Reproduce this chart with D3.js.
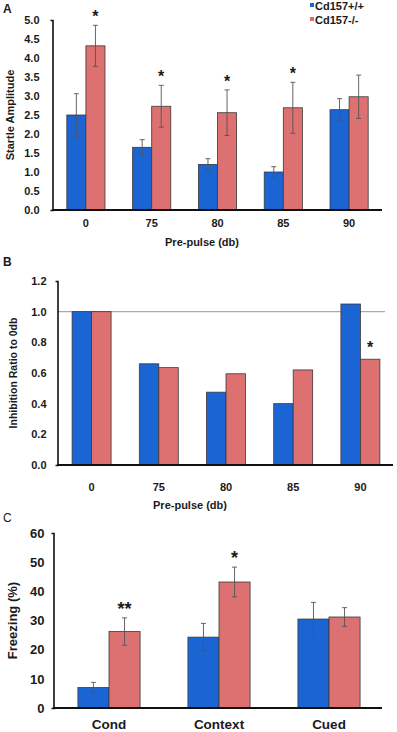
<!DOCTYPE html>
<html><head><meta charset="utf-8">
<script src="https://cdn.jsdelivr.net/npm/d3@7"></script>
<style>
body{margin:0;background:#fff;}
svg{display:block;font-family:"Liberation Sans",Arial,sans-serif;}
text{fill:#1a1a1a;}
</style></head>
<body>
<script>
// ---------- DATA ----------
const series = ["Cd157+/+", "Cd157-/-"];
const colors = ["#1a64d4", "#dd7070"];

const prepulse = ["0", "75", "80", "85", "90"];
const startleWT = [2.5, 1.65, 1.2, 1.0, 2.64];
const startleWTErr = [0.56, 0.2, 0.15, 0.14, 0.29];
const startleKO = [4.32, 2.73, 2.56, 2.69, 2.98];
const startleKOErr = [0.54, 0.55, 0.6, 0.67, 0.57];
const startleSig = ["*", "*", "*", "*", ""];
const startleTicks = [0, 0.5, 1, 1.5, 2, 2.5, 3, 3.5, 4, 4.5, 5];

const ratioWT = [1.0, 0.66, 0.475, 0.40, 1.05];
const ratioKO = [1.0, 0.635, 0.595, 0.62, 0.69];
const ratioSig = ["", "", "", "", "*"];
const ratioTicks = [0, 0.2, 0.4, 0.6, 0.8, 1.0, 1.2];

const tests = ["Cond", "Context", "Cued"];
const freezeWT = [7, 24.3, 30.5];
const freezeWTErr = [1.8, 4.7, 5.7];
const freezeKO = [26.2, 43.2, 31.2];
const freezeKOErr = [4.7, 5.1, 3.2];
const freezeSig = ["**", "*", ""];
const freezeTicks = [0, 10, 20, 30, 40, 50, 60];

// ---------- DRAW ----------
const W = 397, H = 732;
const svg = d3.select("body").append("svg").attr("width", W).attr("height", H);

function panel(opt) {
  const g = svg.append("g");
  const x = d3.scaleBand().domain(opt.cats).range(opt.xr).paddingInner(opt.pad).paddingOuter(opt.pad / 2);
  const xs = d3.scaleBand().domain([0, 1]).range([0, x.bandwidth()]);
  const y = d3.scaleLinear().domain(opt.yd).range(opt.yr);

  if (opt.refLine != null) {
    g.append("line").attr("x1", opt.xr[0]).attr("x2", opt.refEnd)
      .attr("y1", y(opt.refLine)).attr("y2", y(opt.refLine))
      .attr("stroke", "#aaa").attr("stroke-width", 1.2);
  }

  const data = [];
  opt.cats.forEach((c, i) => {
    opt.vals.forEach((v, s) => data.push({c, s, v: v[i], e: opt.errs ? opt.errs[s][i] : null}));
  });

  g.selectAll("rect.bar").data(data).join("rect")
    .attr("x", d => x(d.c) + xs(d.s))
    .attr("width", xs.bandwidth())
    .attr("y", d => y(d.v))
    .attr("height", d => y(0) - y(d.v))
    .attr("fill", d => colors[d.s])
    .attr("stroke", "#3a3a3a").attr("stroke-width", 0.8);

  if (opt.errs) {
    const eg = g.selectAll("g.err").data(data).join("g")
      .attr("stroke", "#555").attr("stroke-width", 0.9);
    const cx = d => x(d.c) + xs(d.s) + xs.bandwidth() / 2;
    eg.append("line").attr("x1", cx).attr("x2", cx)
      .attr("y1", d => y(d.v + d.e)).attr("y2", d => y(d.v - d.e));
    eg.append("line").attr("x1", d => cx(d) - 2.5).attr("x2", d => cx(d) + 2.5)
      .attr("y1", d => y(d.v + d.e)).attr("y2", d => y(d.v + d.e));
    eg.append("line").attr("x1", d => cx(d) - 2.5).attr("x2", d => cx(d) + 2.5)
      .attr("y1", d => y(d.v - d.e)).attr("y2", d => y(d.v - d.e));
  }

  g.selectAll("text.sig").data(opt.cats).join("text")
    .attr("x", c => x(c) + xs(1) + xs.bandwidth() / 2)
    .attr("y", (c, i) => {
      const top = opt.vals[1][i] + (opt.errs ? opt.errs[1][i] : 0);
      return y(top) - opt.sigGap;
    })
    .attr("text-anchor", "middle")
    .attr("font-weight", "bold").attr("font-size", opt.sigSize)
    .attr("fill", "#333")
    .text((c, i) => opt.sig[i]);

  const ya = g.append("g").attr("transform", `translate(${opt.xr[0] - 0.5},0)`)
    .call(d3.axisLeft(y).tickValues(opt.ticks).tickFormat(opt.fmt)
      .tickSizeInner(0).tickSizeOuter(2).tickPadding(opt.tickPad));
  ya.select(".domain").attr("stroke", "#111").attr("stroke-width", 1.6);
  ya.selectAll("text").attr("font-size", opt.tickFs).attr("font-weight", "bold")
    .attr("font-family", "'Liberation Sans',Arial,sans-serif").attr("fill", "#1a1a1a");

  const xa = g.append("g").attr("transform", `translate(0,${y(0)})`)
    .call(d3.axisBottom(x).tickSize(0).tickSizeOuter(0).tickPadding(opt.xPad));
  xa.select(".domain").attr("stroke", "#111").attr("stroke-width", 2)
    .attr("d", `M${opt.xr[0] - 1},0H${opt.xEnd}`);
  xa.selectAll("text").attr("font-size", opt.xFs).attr("font-weight", "bold")
    .attr("font-family", "'Liberation Sans',Arial,sans-serif").attr("fill", "#1a1a1a");

  if (opt.xTitle) {
    g.append("text").attr("x", opt.xTitleX).attr("y", opt.xTitleY)
      .attr("text-anchor", "middle").attr("font-weight", "bold").attr("font-size", 11)
      .text(opt.xTitle);
  }
  g.append("text")
    .attr("transform", `translate(${opt.yTitleX},${(opt.yr[0] + opt.yr[1]) / 2}) rotate(-90)`)
    .attr("text-anchor", "middle").attr("font-weight", "bold").attr("font-size", opt.yTitleFs)
    .text(opt.yTitle);

  g.append("text").attr("x", 3).attr("y", opt.labelY)
    .attr("font-weight", opt.labelBold ? "bold" : "normal").attr("font-size", 12)
    .text(opt.label);
}

panel({
  cats: prepulse, vals: [startleWT, startleKO], errs: [startleWTErr, startleKOErr],
  sig: startleSig, sigSize: 16, sigGap: 3,
  xr: [53, 382], xEnd: 382, pad: 0.42, yd: [0, 5], yr: [210, 20],
  ticks: startleTicks, fmt: d3.format(".1f"), tickPad: 13, tickFs: 11,
  xPad: 9, xFs: 11,
  xTitle: "Pre-pulse (db)", xTitleX: 202, xTitleY: 246,
  yTitle: "Startle Amplitude", yTitleX: 14, yTitleFs: 11,
  label: "A", labelY: 13, labelBold: true
});

panel({
  cats: prepulse, vals: [ratioWT, ratioKO], errs: null,
  sig: ratioSig, sigSize: 16, sigGap: 6,
  xr: [58, 394], xEnd: 393, pad: 0.42, yd: [0, 1.2], yr: [465, 281],
  ticks: ratioTicks, fmt: d3.format(".1f"), tickPad: 11, tickFs: 11,
  refLine: 1.0, refEnd: 385,
  xPad: 18, xFs: 11,
  xTitle: "Pre-pulse (db)", xTitleX: 190, xTitleY: 509,
  yTitle: "Inhibition Ratio to 0db", yTitleX: 17, yTitleFs: 10.5,
  label: "B", labelY: 266, labelBold: true
});

panel({
  cats: tests, vals: [freezeWT, freezeKO], errs: [freezeWTErr, freezeKOErr],
  sig: freezeSig, sigSize: 18, sigGap: 3,
  xr: [54, 384], xEnd: 382, pad: 0.435, yd: [0, 60], yr: [708, 533],
  ticks: freezeTicks, fmt: d3.format("d"), tickPad: 9, tickFs: 13,
  xPad: 11, xFs: 13.5,
  xTitle: null,
  yTitle: "Freezing (%)", yTitleX: 17, yTitleFs: 13,
  label: "C", labelY: 522, labelBold: false
});

const leg = svg.append("g");
leg.selectAll("rect").data(series).join("rect")
  .attr("x", 310).attr("y", (d, i) => 3 + i * 14)
  .attr("width", 4).attr("height", 4)
  .attr("fill", (d, i) => colors[i]);
leg.selectAll("text").data(series).join("text")
  .attr("x", 315).attr("y", (d, i) => 10 + i * 14)
  .attr("font-size", 11).attr("font-weight", "bold")
  .text(d => d);
</script>
</body></html>
